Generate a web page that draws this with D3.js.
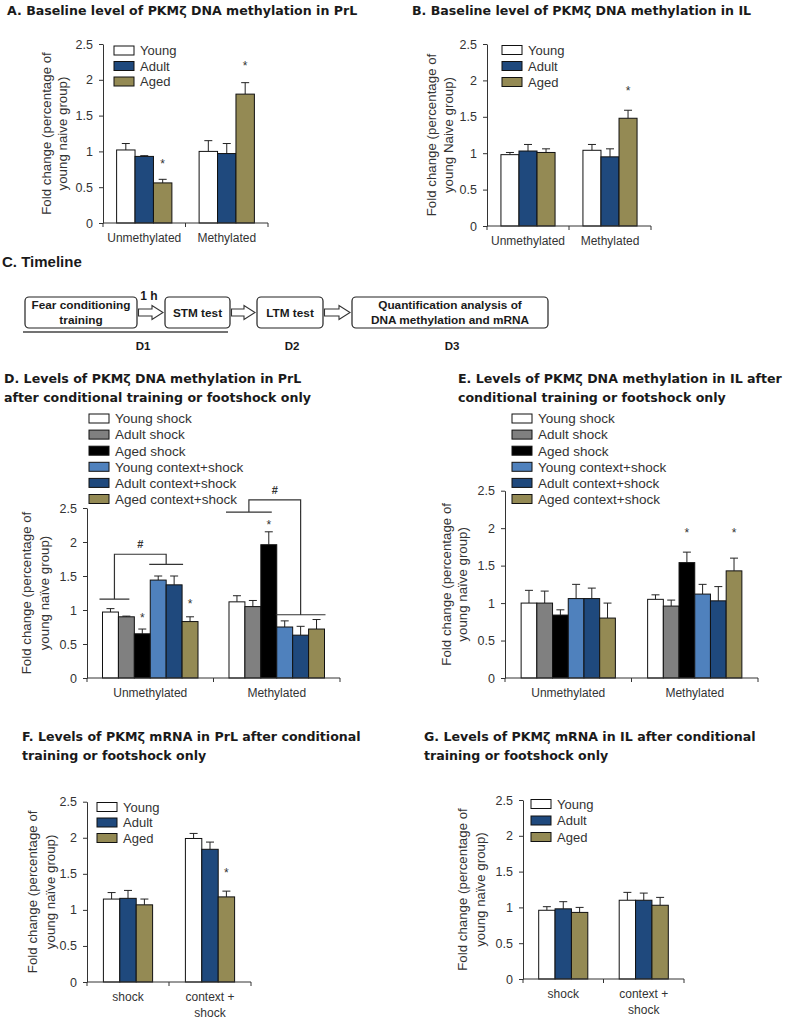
<!DOCTYPE html>
<html>
<head>
<meta charset="utf-8">
<script src="https://d3js.org/d3.v7.min.js"></script>
<style>
  body { margin: 0; background: #fff; }
  svg { display: block; }
  .title { font-family: "DejaVu Sans", sans-serif; font-weight: bold; font-size: 12.6px; fill: #1a1a1a; }
  .ax { font-family: "Liberation Sans", Arial, sans-serif; fill: #333; }
</style>
</head>
<body>
<svg id="fig" width="787" height="1020"></svg>
<script>
// ---- data ----
var methGroups = ["Unmethylated", "Methylated"];
var trainGroups = ["shock", "context +|shock"];
var ageSeries = ["Young", "Adult", "Aged"];
var sixSeries = ["Young shock", "Adult shock", "Aged shock", "Young context+shock", "Adult context+shock", "Aged context+shock"];
var yTicks = [0, 0.5, 1, 1.5, 2, 2.5];

var ageColors = ["#ffffff", "#1f497d", "#948a54"];
var sixColors = ["#ffffff", "#808080", "#000000", "#4f81bd", "#1f497d", "#948a54"];

// A. PrL baseline
var aMean = [[1.02, 0.93, 0.56], [1.00, 0.97, 1.80]];
var aSem  = [[0.09, 0.01, 0.05], [0.15, 0.14, 0.16]];
var aStars = [[0, 2, 0.87], [1, 2, 2.24]];
// B. IL baseline
var bMean = [[0.98, 1.03, 1.01], [1.04, 0.95, 1.48]];
var bSem  = [[0.03, 0.09, 0.05], [0.08, 0.11, 0.11]];
var bStars = [[1, 2, 1.90]];
// D. PrL after training
var dMean = [[0.97, 0.90, 0.65, 1.44, 1.37, 0.83], [1.12, 1.05, 1.96, 0.75, 0.63, 0.72]];
var dSem  = [[0.05, 0.01, 0.07, 0.06, 0.13, 0.07], [0.09, 0.09, 0.19, 0.09, 0.13, 0.14]];
var dStars = [[0, 2, 0.93], [0, 5, 1.13], [1, 2, 2.29]];
// brackets: group, left [from, to, level], right [from, to, level], top level
var dBrackets = [
  { g: 0, left: [0, 1.5, 1.16], right: [3, 5, 1.67], top: 1.82 },
  { g: 1, left: [0, 2.5, 2.44], right: [3, 6, 0.93], top: 2.62 }
];
// E. IL after training
var eMean = [[1.00, 1.00, 0.84, 1.06, 1.06, 0.80], [1.05, 0.96, 1.54, 1.12, 1.03, 1.43]];
var eSem  = [[0.17, 0.16, 0.07, 0.19, 0.14, 0.20], [0.06, 0.08, 0.14, 0.13, 0.19, 0.17]];
var eStars = [[1, 2, 1.97], [1, 5, 1.97]];
// F. PrL mRNA
var fMean = [[1.15, 1.16, 1.07], [1.99, 1.84, 1.18]];
var fSem  = [[0.09, 0.11, 0.08], [0.07, 0.10, 0.08]];
var fStars = [[1, 2, 1.55]];
// G. IL mRNA
var gMean = [[0.96, 0.98, 0.93], [1.10, 1.10, 1.03]];
var gSem  = [[0.05, 0.10, 0.07], [0.11, 0.10, 0.11]];

var svg = d3.select("#fig");

function title(x, y, lines) {
  var t = svg.append("text").attr("class", "title").attr("x", x).attr("y", y);
  lines.forEach(function(l, i) {
    t.append("tspan").attr("x", x).attr("dy", i ? 19 : 0).text(l);
  });
}

function barChart(o) {
  var g = svg.append("g");
  var x0 = d3.scaleBand().domain(o.groups).range(o.xr);
  var bw = x0.bandwidth();
  var x1 = d3.scaleBand().domain(o.series)
    .range([bw * (1 - o.fill) / 2, bw * (1 + o.fill) / 2]);
  var y = d3.scaleLinear().domain([0, 2.5]).range(o.yr);
  var step = x1.step();
  function bx(gi, idx) { return x0(o.groups[gi]) + x1(o.series[0]) + idx * step; }

  // bars + error bars
  o.means.forEach(function(row, gi) {
    row.forEach(function(v, si) {
      var xl = bx(gi, si), cx = xl + step / 2, top = v + o.sems[gi][si];
      g.append("line").attr("x1", cx).attr("x2", cx)
        .attr("y1", y(v)).attr("y2", y(top)).attr("stroke", "#222").attr("stroke-width", 1);
      g.append("line").attr("x1", cx - 4).attr("x2", cx + 4)
        .attr("y1", y(top)).attr("y2", y(top)).attr("stroke", "#222").attr("stroke-width", 1);
      g.append("rect").attr("x", xl).attr("y", y(v))
        .attr("width", step).attr("height", y(0) - y(v))
        .attr("fill", o.colors[si]).attr("stroke", "#111").attr("stroke-width", 1);
    });
  });

  (o.stars || []).forEach(function(s) {
    g.append("text").attr("class", "ax").attr("x", bx(s[0], s[1]) + step / 2)
      .attr("y", y(s[2]) + 7).attr("text-anchor", "middle")
      .style("font-size", "12px").text("*");
  });

  (o.brackets || []).forEach(function(b) {
    var lx1 = bx(b.g, b.left[0]), lx2 = bx(b.g, b.left[1]);
    var rx1 = bx(b.g, b.right[0]), rx2 = bx(b.g, b.right[1]);
    var lm = (lx1 + lx2) / 2, rm = (rx1 + rx2) / 2;
    var p = d3.path();
    p.moveTo(lx1 - 3, y(b.left[2])); p.lineTo(lx2 + 3, y(b.left[2]));
    p.moveTo(lm, y(b.left[2])); p.lineTo(lm, y(b.top)); p.lineTo(rm, y(b.top)); p.lineTo(rm, y(b.right[2]));
    p.moveTo(rx1 - 1, y(b.right[2])); p.lineTo(rx2 + 1, y(b.right[2]));
    g.append("path").attr("d", p.toString()).attr("fill", "none")
      .attr("stroke", "#333").attr("stroke-width", 1.2);
    g.append("text").attr("class", "ax").attr("x", (lm + rm) / 2).attr("y", y(b.top) - 6)
      .attr("text-anchor", "middle").style("font-size", "11px").style("font-weight", "bold").text("#");
  });

  // axes
  var ya = g.append("g").attr("transform", "translate(" + o.xr[0] + ",0)")
    .call(d3.axisLeft(y).tickValues(yTicks).tickSize(4).tickSizeOuter(0).tickPadding(6).tickFormat(d3.format("")));
  ya.select(".domain").attr("stroke", "#333");
  ya.selectAll(".tick line").attr("stroke", "#333");
  ya.selectAll("text").attr("class", "ax").style("font-size", "12.5px").attr("fill", "#333");
  ya.attr("font-family", null);

  var xa = g.append("g").attr("transform", "translate(0," + y(0) + ")");
  xa.append("line").attr("x1", o.xr[0]).attr("x2", o.xr[1]).attr("stroke", "#333");
  [o.xr[0]].concat(o.groups.map(function(d) { return x0(d) + bw; })).forEach(function(t) {
    xa.append("line").attr("x1", t).attr("x2", t).attr("y1", 0).attr("y2", 4).attr("stroke", "#333");
  });
  o.groups.forEach(function(d) {
    var t = xa.append("text").attr("class", "ax").attr("text-anchor", "middle")
      .attr("y", 18.5).style("font-size", "12px");
    d.split("|").forEach(function(l, i) {
      t.append("tspan").attr("x", x0(d) + bw / 2).attr("dy", i ? 16 : 0).text(l);
    });
  });

  // y label
  var cy = (o.yr[0] + o.yr[1]) / 2;
  o.ylab.forEach(function(l, i) {
    g.append("text").attr("class", "ax").attr("text-anchor", "middle")
      .attr("transform", "translate(" + (o.xr[0] + o.ylabOff[i]) + "," + cy + ") rotate(-90)")
      .style("font-size", "13.3px").text(l);
  });

  // legend
  o.series.forEach(function(s, i) {
    var ly = o.leg[1] + i * o.leg[2];
    g.append("rect").attr("x", o.leg[0]).attr("y", ly - 4.5).attr("width", 20).attr("height", 9)
      .attr("fill", o.colors[i]).attr("stroke", "#111").attr("stroke-width", 1);
    g.append("text").attr("class", "ax").attr("x", o.leg[0] + 26).attr("y", ly + 4.8)
      .style("font-size", o.legFont).attr("fill", "#222").text(s);
  });
}

// ---- titles ----
title(7, 14.5, ["A. Baseline level of PKM\u03b6 DNA methylation in PrL"]);
title(412, 14.5, ["B. Baseline level of PKM\u03b6 DNA methylation in IL"]);
title(4, 382.5, ["D. Levels of PKM\u03b6 DNA methylation in PrL", "after conditional training or footshock only"]);
title(458, 382.5, ["E. Levels of PKM\u03b6 DNA methylation in IL after", "conditional training or footshock only"]);
title(22, 740.5, ["F. Levels of PKM\u03b6 mRNA in PrL after conditional", "training or footshock only"]);
title(424, 740.5, ["G. Levels of PKM\u03b6 mRNA in IL after conditional", "training or footshock only"]);

var labNaive = ["Fold change (percentage of", "young naive group)"];
var labNaiveCap = ["Fold change (percentage of", "young Naive group)"];
var labNaiveDi = ["Fold change (percentage of", "young na\u00efve group)"];

barChart({ groups: methGroups, series: ageSeries, colors: ageColors, means: aMean, sems: aSem, stars: aStars,
  xr: [103, 268], yr: [223, 44], fill: 0.67, ylab: labNaive, ylabOff: [-52, -36],
  leg: [114, 50.5, 15.5], legFont: "13px" });
barChart({ groups: methGroups, series: ageSeries, colors: ageColors, means: bMean, sems: bSem, stars: bStars,
  xr: [487, 651], yr: [226, 44], fill: 0.66, ylab: labNaiveCap, ylabOff: [-51, -34],
  leg: [502, 50, 16], legFont: "13px" });
barChart({ groups: methGroups, series: sixSeries, colors: sixColors, means: dMean, sems: dSem, stars: dStars,
  brackets: dBrackets, xr: [87, 340], yr: [678, 508], fill: 0.755, ylab: labNaiveDi, ylabOff: [-56, -38],
  leg: [89, 418.5, 16.1], legFont: "13.5px" });
barChart({ groups: methGroups, series: sixSeries, colors: sixColors, means: eMean, sems: eSem, stars: eStars,
  xr: [505, 758], yr: [678, 490.7], fill: 0.745, ylab: labNaiveDi, ylabOff: [-54, -38],
  leg: [512, 418.5, 16.1], legFont: "13.5px" });
barChart({ groups: trainGroups, series: ageSeries, colors: ageColors, means: fMean, sems: fSem, stars: fStars,
  xr: [87, 251], yr: [982, 801.7], fill: 0.6, ylab: labNaiveDi, ylabOff: [-50, -32],
  leg: [97, 807, 15.5], legFont: "13px" });
barChart({ groups: trainGroups, series: ageSeries, colors: ageColors, means: gMean, sems: gSem,
  xr: [523, 684], yr: [979, 800], fill: 0.61, ylab: labNaiveDi, ylabOff: [-56, -38],
  leg: [531, 804, 16.5], legFont: "13px" });

// ---- C. timeline ----
var steps = [
  { x: 25, w: 112, lines: ["Fear conditioning", "training"] },
  { x: 165, w: 65, lines: ["STM test"] },
  { x: 257, w: 66, lines: ["LTM test"] },
  { x: 352, w: 196, lines: ["Quantification analysis of", "DNA methylation and mRNA"] }
];
var days = [["D1", 143], ["D2", 292], ["D3", 452]];
var tl = svg.append("g").attr("font-family", "'Liberation Sans', Arial, sans-serif").attr("font-weight", "bold");
tl.append("text").attr("x", 2).attr("y", 267).style("font-size", "15px").attr("fill", "#1a1a1a").text("C. Timeline");
var bTop = 297, bH = 31, mid = bTop + bH / 2;
steps.forEach(function(s, i) {
  tl.append("rect").attr("x", s.x).attr("y", bTop).attr("width", s.w).attr("height", bH)
    .attr("rx", 4).attr("fill", "#fff").attr("stroke", "#222").attr("stroke-width", 1.2);
  s.lines.forEach(function(l, j) {
    var ty = s.lines.length === 1 ? mid + 4.2 : mid - 7.5 + j * 15 + 4.2;
    tl.append("text").attr("x", s.x + s.w / 2).attr("y", ty).attr("text-anchor", "middle")
      .style("font-size", "11.8px").attr("fill", "#1a1a1a").text(l);
  });
  if (i < steps.length - 1) {
    var ax = s.x + s.w + 1.5, ae = steps[i + 1].x - 2, hx = ae - 11;
    var pts = [[ax, mid - 3.5], [hx, mid - 3.5], [hx, mid - 7], [ae, mid], [hx, mid + 7], [hx, mid + 3.5], [ax, mid + 3.5]];
    tl.append("polygon").attr("points", pts.map(function(p) { return p.join(","); }).join(" "))
      .attr("fill", "#fff").attr("stroke", "#333").attr("stroke-width", 1.1);
  }
});
tl.append("text").attr("x", 149).attr("y", 300).attr("text-anchor", "middle").style("font-size", "12px").attr("fill", "#1a1a1a").text("1 h");
tl.append("line").attr("x1", 23).attr("x2", 228).attr("y1", 332).attr("y2", 332).attr("stroke", "#444").attr("stroke-width", 1.5);
days.forEach(function(d) {
  tl.append("text").attr("x", d[1]).attr("y", 349.5).attr("text-anchor", "middle").style("font-size", "11.5px").attr("fill", "#1a1a1a").text(d[0]);
});
</script>
</body>
</html>
